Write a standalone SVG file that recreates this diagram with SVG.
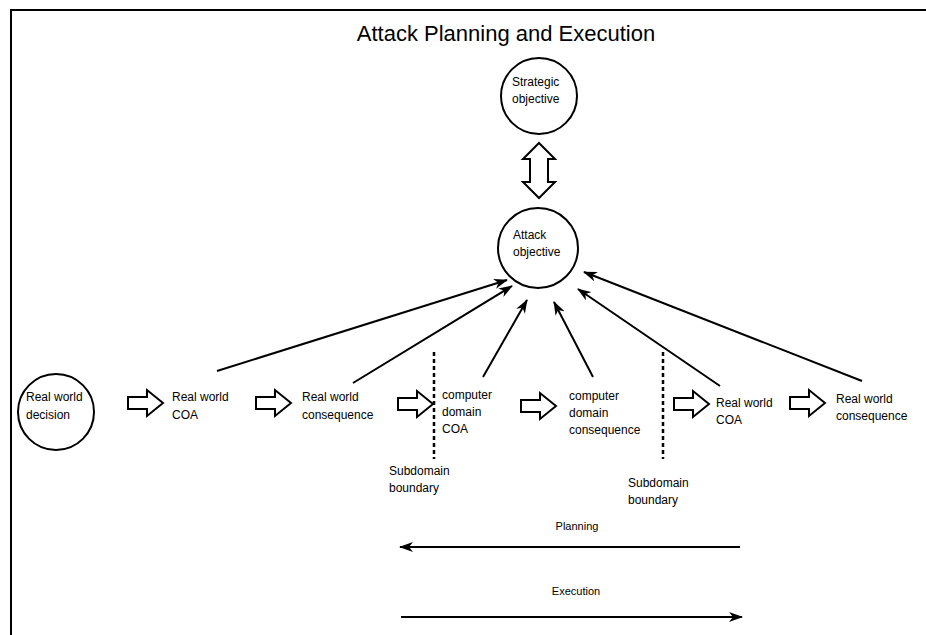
<svg xmlns="http://www.w3.org/2000/svg" width="926" height="635" viewBox="0 0 926 635">
<defs>
<marker id="ah" viewBox="0 0 14 10" refX="13" refY="5" markerWidth="14" markerHeight="10" markerUnits="userSpaceOnUse" orient="auto">
<path d="M0,0 L14,5 L0,10 L4,5 Z" fill="#000"/>
</marker>
<style>
.t{font-family:"Liberation Sans",Arial,sans-serif;font-size:12px;fill:#000}
.c{fill:#fff;stroke:#000;stroke-width:2}
.ba{fill:#fff;stroke:#000;stroke-width:2;stroke-linejoin:miter}
.ln{stroke:#000;stroke-width:2;fill:none}
.dt{stroke:#000;stroke-width:2.5;stroke-dasharray:4 3;fill:none}
</style>
<path id="blk" d="M0,-6 L19,-6 L19,-13 L35,0 L19,13 L19,6 L0,6 Z" class="ba"/>
</defs>
<rect x="11" y="10" width="1000" height="700" fill="#fff" stroke="#000" stroke-width="2"/>
<text x="506" y="41" text-anchor="middle" style="font-family:'Liberation Sans',Arial,sans-serif;font-size:22px">Attack Planning and Execution</text>

<g id="strategic">
<circle cx="539" cy="96" r="38" class="c"/>
<text class="t" x="512" y="86">Strategic</text>
<text class="t" x="512" y="103">objective</text>
</g>
<g id="attack">
<circle cx="538" cy="248" r="40" class="c"/>
<text class="t" x="513" y="239">Attack</text>
<text class="t" x="513" y="256">objective</text>
</g>
<g id="rw-decision">
<circle cx="56" cy="412" r="38" class="c"/>
<text class="t" x="26" y="401">Real world</text>
<text class="t" x="26" y="419">decision</text>
</g>
<g id="rw-coa1">
<text class="t" x="172" y="401">Real world</text>
<text class="t" x="172" y="419">COA</text>
</g>
<g id="rw-cons1">
<text class="t" x="302" y="401">Real world</text>
<text class="t" x="302" y="419">consequence</text>
</g>
<g id="cd-coa">
<text class="t" x="442" y="399">computer</text>
<text class="t" x="442" y="416">domain</text>
<text class="t" x="442" y="433">COA</text>
</g>
<g id="cd-cons">
<text class="t" x="569" y="400">computer</text>
<text class="t" x="569" y="417">domain</text>
<text class="t" x="569" y="434">consequence</text>
</g>
<g id="rw-coa2">
<text class="t" x="716" y="407">Real world</text>
<text class="t" x="716" y="424">COA</text>
</g>
<g id="rw-cons2">
<text class="t" x="836" y="403">Real world</text>
<text class="t" x="836" y="420">consequence</text>
</g>
<g id="boundary1">
<line x1="434" y1="352" x2="434" y2="459" class="dt"/>
<text class="t" x="389" y="475">Subdomain</text>
<text class="t" x="389" y="492">boundary</text>
</g>
<g id="boundary2">
<line x1="663" y1="352" x2="663" y2="459" class="dt"/>
<text class="t" x="628" y="487">Subdomain</text>
<text class="t" x="628" y="504">boundary</text>
</g>

<g id="connectors">
<path d="M539,143 L555,159 L548,159 L548,182 L555,182 L539,198 L523,182 L530,182 L530,159 L523,159 Z" class="ba"/>
<use href="#blk" x="128" y="403"/>
<use href="#blk" x="256" y="403"/>
<use href="#blk" x="398" y="404"/>
<use href="#blk" x="521" y="406"/>
<use href="#blk" x="674" y="404"/>
<use href="#blk" x="790" y="403"/>
<line x1="217" y1="371" x2="507" y2="280" class="ln" marker-end="url(#ah)"/>
<line x1="353" y1="383" x2="512" y2="286" class="ln" marker-end="url(#ah)"/>
<line x1="483" y1="377" x2="527" y2="300" class="ln" marker-end="url(#ah)"/>
<line x1="593" y1="377" x2="554" y2="302" class="ln" marker-end="url(#ah)"/>
<line x1="720" y1="386" x2="578" y2="289" class="ln" marker-end="url(#ah)"/>
<line x1="862" y1="381" x2="584" y2="272" class="ln" marker-end="url(#ah)"/>
<line x1="740" y1="547" x2="400" y2="547" class="ln" marker-end="url(#ah)"/>
<line x1="401" y1="617" x2="742" y2="617" class="ln" marker-end="url(#ah)"/>
</g>
<text class="t" x="577" y="530" text-anchor="middle" style="font-size:11px">Planning</text>
<text class="t" x="576" y="595" text-anchor="middle" style="font-size:11px">Execution</text>
</svg>
